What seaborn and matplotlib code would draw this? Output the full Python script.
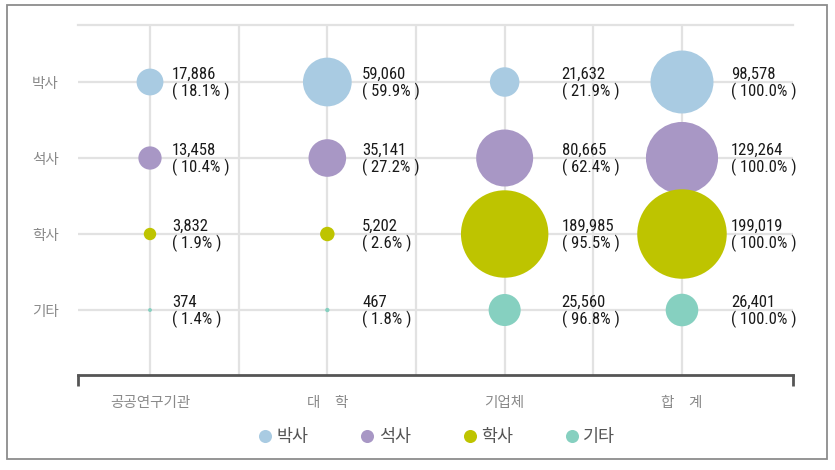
import matplotlib
matplotlib.use("Agg")
import matplotlib.pyplot as plt
import matplotlib.patches as mpatches
from matplotlib.lines import Line2D
from matplotlib import font_manager
import seaborn as sns
import pandas as pd

# ---- data ----
orgs = ["공공연구기관", "대　학", "기업체", "합　계"]
degrees = ["박사", "석사", "학사", "기타"]
phd = [17886, 59060, 21632, 98578]
master = [13458, 35141, 80665, 129264]
bachelor = [3832, 5202, 189985, 199019]
other = [374, 467, 25560, 26401]
phd_pct = [18.1, 59.9, 21.9, 100.0]
master_pct = [10.4, 27.2, 62.4, 100.0]
bachelor_pct = [1.9, 2.6, 95.5, 100.0]
other_pct = [1.4, 1.8, 96.8, 100.0]
colors = ["#a9cbe2", "#a897c5", "#bec400", "#86d0c0"]

values = [phd, master, bachelor, other]
pcts = [phd_pct, master_pct, bachelor_pct, other_pct]

rows = []
for d, vals, ps in zip(degrees, values, pcts):
    for o, v, p in zip(orgs, vals, ps):
        rows.append({"org": o, "degree": d, "value": v, "pct": p})
df = pd.DataFrame(rows)
df["x"] = df["org"].map({o: i for i, o in enumerate(orgs)})
df["y"] = df["degree"].map({d: i for i, d in enumerate(degrees)})

# ---- fonts ----
avail = {f.name for f in font_manager.fontManager.ttflist}
if "Roboto Condensed" in avail:
    num_font = ["Roboto Condensed"]
elif "Liberation Sans Narrow" in avail:
    num_font = ["Liberation Sans Narrow"]
else:
    num_font = ["Roboto", "DejaVu Sans"]
kr_font = ["Noto Sans CJK KR", "DejaVu Sans"]

sns.set_theme(style="white")
plt.rcParams["font.family"] = kr_font

fig = plt.figure(figsize=(8.35, 4.70), dpi=100)
ax = fig.add_axes([78 / 835, 1 - 375 / 470, (793 - 78) / 835, (375 - 25) / 470])

vmax = max(bachelor)
sns.scatterplot(data=df, x="x", y="y", hue="degree", palette=colors,
                size="value", sizes=(0, 4150), size_norm=(0, vmax),
                hue_order=degrees, legend=False, linewidth=0, alpha=1,
                ax=ax, zorder=3)

# label offsets per column (layout, in x units)
label_dx = [0.125, 0.197, 0.321, 0.277]
for _, r in df.iterrows():
    ax.text(r["x"] + label_dx[int(r["x"])], r["y"] + 0.02,
            f"{int(r['value']):,}\n( {r['pct']:.1f}% )",
            ha="left", va="center", fontsize=12, color="#1a1a1a",
            family=num_font, linespacing=1.1, zorder=4)

ax.set_xlim(-0.406, 3.626)
ax.set_ylim(3.855, -0.75)

ax.set_xticks(range(len(orgs)))
ax.set_xticks([0.5, 1.5, 2.5], minor=True)
ax.set_xticklabels(orgs, fontsize=10.5, color="#8a8a8a")
ax.set_yticks(range(len(degrees)))
ax.set_yticklabels(degrees, fontsize=10.5, color="#8a8a8a")
ax.set_xlabel("")
ax.set_ylabel("")

grid_c = "#e2e2e2"
ax.grid(True, which="both", axis="x", color=grid_c, lw=1.6, zorder=0)
ax.grid(True, which="major", axis="y", color=grid_c, lw=1.6, zorder=0)
ax.set_axisbelow(True)

for s in ["left", "right"]:
    ax.spines[s].set_visible(False)
ax.spines["top"].set_visible(True)
ax.spines["top"].set_color(grid_c)
ax.spines["top"].set_linewidth(1.6)
ax.spines["bottom"].set_color("#555555")
ax.spines["bottom"].set_linewidth(2)

ax.tick_params(axis="x", which="major", direction="out", length=8, width=2,
               color="#555555", pad=7)
ax.tick_params(axis="x", which="minor", length=0)
ax.tick_params(axis="y", length=0, pad=14)

# end caps of the baseline
for xa in (0, 1):
    ax.plot([xa, xa], [0.003, -0.03], transform=ax.transAxes, color="#555555",
            lw=2, clip_on=False, solid_capstyle="butt")

# legend
handles = [Line2D([0], [0], marker="o", ls="", markersize=9.4, markerfacecolor=c,
                  markeredgewidth=0) for c in colors]
fig.legend(handles, degrees, loc="center", bbox_to_anchor=(0.522, 1 - 437 / 470),
           ncol=4, frameon=False, fontsize=12.5, handlelength=1.0, handletextpad=0.15,
           columnspacing=2.9, labelcolor="#555555")

# outer border
fig.patches.append(mpatches.Rectangle((7 / 835, 1 - 459 / 470), 820 / 835, 454 / 470,
                                      transform=fig.transFigure, fill=False,
                                      edgecolor="#8c8c8c", lw=1.3))

fig.savefig("out.png", dpi=100)
